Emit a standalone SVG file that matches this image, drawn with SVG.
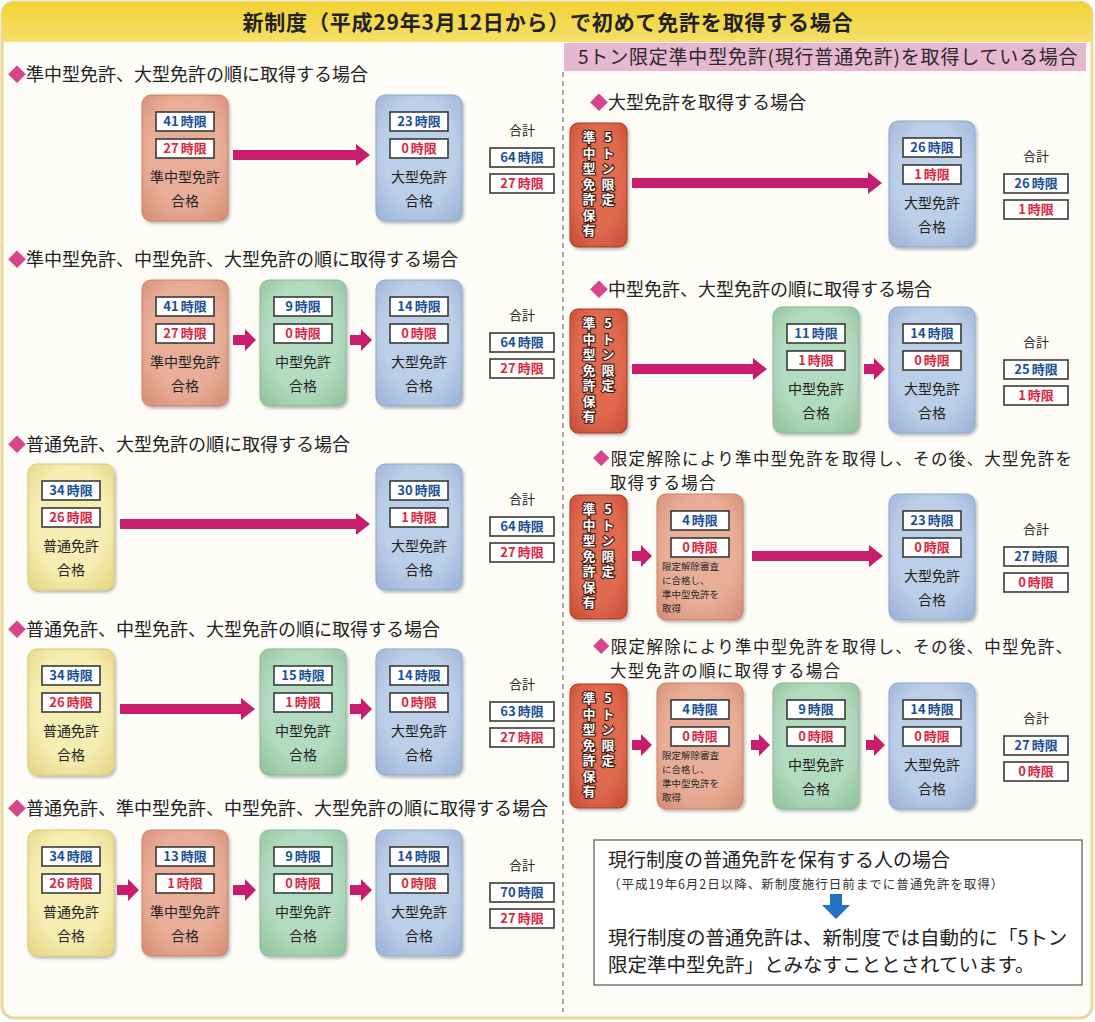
<svg xmlns="http://www.w3.org/2000/svg" width="1095" height="1022" viewBox="0 0 1095 1022">
<defs>
<style>
text { font-family: "Noto Sans CJK JP", "Noto Sans CJK SC", sans-serif; }
.h { font-size: 18px; fill: #222; }
.h2 { font-size: 16.5px; fill: #222; letter-spacing: 1.3px; }
.dia { fill: #d8468a; }
.lb { fill: #fff; stroke: #3a3a3a; stroke-width: 1.6; }
.tb { fill: #1c4f95; font-size: 13px; font-weight: bold; text-anchor: middle; }
.tr { fill: #d8283f; font-size: 13px; font-weight: bold; text-anchor: middle; }
.nm { fill: #222; font-size: 14px; text-anchor: middle; }
.sm { fill: #2a2a2a; font-size: 9.5px; }
.gk { fill: #222; font-size: 13px; text-anchor: middle; }
.arr { fill: #c81d6d; }
.vt { fill: #fff; stroke: #3b1a12; stroke-width: 2.2; paint-order: stroke; font-size: 13px; font-weight: bold; writing-mode: vertical-rl; text-orientation: upright; letter-spacing: 2.5px; }
.n { filter: url(#sh); stroke-width: 1; }
.sal { fill: url(#gSal); stroke: #c98069; }
.grn { fill: url(#gGrn); stroke: #86b896; }
.blu { fill: url(#gBlu); stroke: #8ea7cc; }
.yel { fill: url(#gYel); stroke: #d8c874; }
.red { fill: url(#gRed); stroke: #a93a26; }
</style>
<radialGradient id="gSal" cx="0.5" cy="0.45" r="0.75"><stop offset="0.55" stop-color="#e9ae98"/><stop offset="1" stop-color="#d48a70"/></radialGradient>
<radialGradient id="gGrn" cx="0.5" cy="0.45" r="0.75"><stop offset="0.55" stop-color="#b3dbbf"/><stop offset="1" stop-color="#8cc09c"/></radialGradient>
<radialGradient id="gBlu" cx="0.5" cy="0.45" r="0.75"><stop offset="0.55" stop-color="#bccfe8"/><stop offset="1" stop-color="#96b0d5"/></radialGradient>
<radialGradient id="gYel" cx="0.5" cy="0.45" r="0.75"><stop offset="0.55" stop-color="#f5edb2"/><stop offset="1" stop-color="#e4d47f"/></radialGradient>
<radialGradient id="gRed" cx="0.5" cy="0.45" r="0.8"><stop offset="0.5" stop-color="#e06a50"/><stop offset="1" stop-color="#c2452f"/></radialGradient>
<linearGradient id="hdr" x1="0" y1="0" x2="0" y2="1"><stop offset="0" stop-color="#f2d232"/><stop offset="1" stop-color="#f6df6c"/></linearGradient>
<filter id="sh" x="-10%" y="-10%" width="130%" height="130%"><feDropShadow dx="1.5" dy="2" stdDeviation="1.5" flood-color="#000" flood-opacity="0.28"/></filter>
</defs>

<g id="background">
<rect x="2" y="2" width="1090" height="1016" rx="12" fill="#fdfcf7" stroke="#e8d89a" stroke-width="3"/>
<path d="M2,42 V14 A12,12 0 0 1 14,2 H1080 A12,12 0 0 1 1092,14 V42 Z" fill="url(#hdr)"/>
<text x="548" y="30" font-size="21" font-weight="bold" fill="#222" text-anchor="middle" letter-spacing="0.8">新制度（平成29年3月12日から）で初めて免許を取得する場合</text>
<rect x="564" y="43" width="522" height="28" fill="#e7b6cf"/>
<text x="578" y="64" font-size="19" fill="#2a2a2a" letter-spacing="0.8">5トン限定準中型免許(現行普通免許)を取得している場合</text>
<line x1="563" y1="72" x2="563" y2="1012" stroke="#555" stroke-width="1" stroke-dasharray="5 4"/>
</g>

<g id="headings">
<text class="h" x="8" y="81"><tspan class="dia">◆</tspan>準中型免許、大型免許の順に取得する場合</text>
<text class="h" x="8" y="266"><tspan class="dia">◆</tspan>準中型免許、中型免許、大型免許の順に取得する場合</text>
<text class="h" x="8" y="451"><tspan class="dia">◆</tspan>普通免許、大型免許の順に取得する場合</text>
<text class="h" x="8" y="636"><tspan class="dia">◆</tspan>普通免許、中型免許、大型免許の順に取得する場合</text>
<text class="h" x="8" y="815"><tspan class="dia">◆</tspan>普通免許、準中型免許、中型免許、大型免許の順に取得する場合</text>
<text class="h" x="590" y="109"><tspan class="dia">◆</tspan>大型免許を取得する場合</text>
<text class="h" x="590" y="296"><tspan class="dia">◆</tspan>中型免許、大型免許の順に取得する場合</text>
<text class="h2" x="593" y="465"><tspan class="dia">◆</tspan>限定解除により準中型免許を取得し、その後、大型免許を<tspan x="610" y="489">取得する場合</tspan></text>
<text class="h2" x="593" y="653"><tspan class="dia">◆</tspan>限定解除により準中型免許を取得し、その後、中型免許、<tspan x="610" y="677">大型免許の順に取得する場合</tspan></text>
</g>

<g id="connectors">
<path class="arr" d="M233,150 H356 V144 L370,155 L356,166 V160 H233 Z"/>
<path class="arr" d="M233,335 H245 V329 L256,340 L245,351 V345 H233 Z"/>
<path class="arr" d="M350,335 H361 V329 L372,340 L361,351 V345 H350 Z"/>
<path class="arr" d="M120,519 H356 V513 L370,524 L356,535 V529 H120 Z"/>
<path class="arr" d="M120,704 H241 V698 L255,709 L241,720 V714 H120 Z"/>
<path class="arr" d="M350,704 H361 V698 L372,709 L361,720 V714 H350 Z"/>
<path class="arr" d="M117,885 H128 V879 L139,890 L128,901 V895 H117 Z"/>
<path class="arr" d="M233,885 H245 V879 L256,890 L245,901 V895 H233 Z"/>
<path class="arr" d="M350,885 H361 V879 L372,890 L361,901 V895 H350 Z"/>
<path class="arr" d="M632,178 H868 V172 L882,183 L868,194 V188 H632 Z"/>
<path class="arr" d="M632,364 H753 V358 L767,369 L753,380 V374 H632 Z"/>
<path class="arr" d="M864,364 H874 V358 L885,369 L874,380 V374 H864 Z"/>
<path class="arr" d="M632,551 H641 V545 L652,556 L641,567 V561 H632 Z"/>
<path class="arr" d="M752,551 H869 V545 L883,556 L869,567 V561 H752 Z"/>
<path class="arr" d="M632,740 H641 V734 L652,745 L641,756 V750 H632 Z"/>
<path class="arr" d="M751,740 H759 V734 L770,745 L759,756 V750 H751 Z"/>
<path class="arr" d="M866,740 H874 V734 L885,745 L874,756 V750 H866 Z"/>
</g>

<!-- Section 1 -->
<g id="s1-junchu">
<rect class="n sal" x="142" y="95" width="86" height="126" rx="9"/>
<rect class="lb" x="156" y="112" width="58" height="19"/><text class="tb" x="185" y="126">41<tspan dx="2">時限</tspan></text>
<rect class="lb" x="156" y="139" width="58" height="19"/><text class="tr" x="185" y="153">27<tspan dx="2">時限</tspan></text>
<text class="nm" x="185" y="182">準中型免許</text><text class="nm" x="185" y="206">合格</text>
</g>
<g id="s1-ogata">
<rect class="n blu" x="376" y="95" width="86" height="126" rx="9"/>
<rect class="lb" x="390" y="112" width="58" height="19"/><text class="tb" x="419" y="126">23<tspan dx="2">時限</tspan></text>
<rect class="lb" x="390" y="139" width="58" height="19"/><text class="tr" x="419" y="153">0<tspan dx="2">時限</tspan></text>
<text class="nm" x="419" y="182">大型免許</text><text class="nm" x="419" y="206">合格</text>
</g>
<g id="s1-total">
<text class="gk" x="522" y="135">合計</text>
<rect class="lb" x="490" y="148" width="64" height="19"/><text class="tb" x="522" y="162">64<tspan dx="2">時限</tspan></text>
<rect class="lb" x="490" y="174" width="64" height="19"/><text class="tr" x="522" y="188">27<tspan dx="2">時限</tspan></text>
</g>

<!-- Section 2 -->
<g id="s2-junchu">
<rect class="n sal" x="142" y="280" width="86" height="126" rx="9"/>
<rect class="lb" x="156" y="297" width="58" height="19"/><text class="tb" x="185" y="311">41<tspan dx="2">時限</tspan></text>
<rect class="lb" x="156" y="324" width="58" height="19"/><text class="tr" x="185" y="338">27<tspan dx="2">時限</tspan></text>
<text class="nm" x="185" y="367">準中型免許</text><text class="nm" x="185" y="391">合格</text>
</g>
<g id="s2-chugata">
<rect class="n grn" x="260" y="280" width="86" height="126" rx="9"/>
<rect class="lb" x="274" y="297" width="58" height="19"/><text class="tb" x="303" y="311">9<tspan dx="2">時限</tspan></text>
<rect class="lb" x="274" y="324" width="58" height="19"/><text class="tr" x="303" y="338">0<tspan dx="2">時限</tspan></text>
<text class="nm" x="303" y="367">中型免許</text><text class="nm" x="303" y="391">合格</text>
</g>
<g id="s2-ogata">
<rect class="n blu" x="376" y="280" width="86" height="126" rx="9"/>
<rect class="lb" x="390" y="297" width="58" height="19"/><text class="tb" x="419" y="311">14<tspan dx="2">時限</tspan></text>
<rect class="lb" x="390" y="324" width="58" height="19"/><text class="tr" x="419" y="338">0<tspan dx="2">時限</tspan></text>
<text class="nm" x="419" y="367">大型免許</text><text class="nm" x="419" y="391">合格</text>
</g>
<g id="s2-total">
<text class="gk" x="522" y="320">合計</text>
<rect class="lb" x="490" y="333" width="64" height="19"/><text class="tb" x="522" y="347">64<tspan dx="2">時限</tspan></text>
<rect class="lb" x="490" y="359" width="64" height="19"/><text class="tr" x="522" y="373">27<tspan dx="2">時限</tspan></text>
</g>

<!-- Section 3 -->
<g id="s3-futsu">
<rect class="n yel" x="28" y="464" width="86" height="126" rx="9"/>
<rect class="lb" x="42" y="481" width="58" height="19"/><text class="tb" x="71" y="495">34<tspan dx="2">時限</tspan></text>
<rect class="lb" x="42" y="508" width="58" height="19"/><text class="tr" x="71" y="522">26<tspan dx="2">時限</tspan></text>
<text class="nm" x="71" y="551">普通免許</text><text class="nm" x="71" y="575">合格</text>
</g>
<g id="s3-ogata">
<rect class="n blu" x="376" y="464" width="86" height="126" rx="9"/>
<rect class="lb" x="390" y="481" width="58" height="19"/><text class="tb" x="419" y="495">30<tspan dx="2">時限</tspan></text>
<rect class="lb" x="390" y="508" width="58" height="19"/><text class="tr" x="419" y="522">1<tspan dx="2">時限</tspan></text>
<text class="nm" x="419" y="551">大型免許</text><text class="nm" x="419" y="575">合格</text>
</g>
<g id="s3-total">
<text class="gk" x="522" y="504">合計</text>
<rect class="lb" x="490" y="517" width="64" height="19"/><text class="tb" x="522" y="531">64<tspan dx="2">時限</tspan></text>
<rect class="lb" x="490" y="543" width="64" height="19"/><text class="tr" x="522" y="557">27<tspan dx="2">時限</tspan></text>
</g>

<!-- Section 4 -->
<g id="s4-futsu">
<rect class="n yel" x="28" y="649" width="86" height="126" rx="9"/>
<rect class="lb" x="42" y="666" width="58" height="19"/><text class="tb" x="71" y="680">34<tspan dx="2">時限</tspan></text>
<rect class="lb" x="42" y="693" width="58" height="19"/><text class="tr" x="71" y="707">26<tspan dx="2">時限</tspan></text>
<text class="nm" x="71" y="736">普通免許</text><text class="nm" x="71" y="760">合格</text>
</g>
<g id="s4-chugata">
<rect class="n grn" x="260" y="649" width="86" height="126" rx="9"/>
<rect class="lb" x="274" y="666" width="58" height="19"/><text class="tb" x="303" y="680">15<tspan dx="2">時限</tspan></text>
<rect class="lb" x="274" y="693" width="58" height="19"/><text class="tr" x="303" y="707">1<tspan dx="2">時限</tspan></text>
<text class="nm" x="303" y="736">中型免許</text><text class="nm" x="303" y="760">合格</text>
</g>
<g id="s4-ogata">
<rect class="n blu" x="376" y="649" width="86" height="126" rx="9"/>
<rect class="lb" x="390" y="666" width="58" height="19"/><text class="tb" x="419" y="680">14<tspan dx="2">時限</tspan></text>
<rect class="lb" x="390" y="693" width="58" height="19"/><text class="tr" x="419" y="707">0<tspan dx="2">時限</tspan></text>
<text class="nm" x="419" y="736">大型免許</text><text class="nm" x="419" y="760">合格</text>
</g>
<g id="s4-total">
<text class="gk" x="522" y="689">合計</text>
<rect class="lb" x="490" y="702" width="64" height="19"/><text class="tb" x="522" y="716">63<tspan dx="2">時限</tspan></text>
<rect class="lb" x="490" y="728" width="64" height="19"/><text class="tr" x="522" y="742">27<tspan dx="2">時限</tspan></text>
</g>

<!-- Section 5 -->
<g id="s5-futsu">
<rect class="n yel" x="28" y="830" width="86" height="126" rx="9"/>
<rect class="lb" x="42" y="847" width="58" height="19"/><text class="tb" x="71" y="861">34<tspan dx="2">時限</tspan></text>
<rect class="lb" x="42" y="874" width="58" height="19"/><text class="tr" x="71" y="888">26<tspan dx="2">時限</tspan></text>
<text class="nm" x="71" y="917">普通免許</text><text class="nm" x="71" y="941">合格</text>
</g>
<g id="s5-junchu">
<rect class="n sal" x="142" y="830" width="86" height="126" rx="9"/>
<rect class="lb" x="156" y="847" width="58" height="19"/><text class="tb" x="185" y="861">13<tspan dx="2">時限</tspan></text>
<rect class="lb" x="156" y="874" width="58" height="19"/><text class="tr" x="185" y="888">1<tspan dx="2">時限</tspan></text>
<text class="nm" x="185" y="917">準中型免許</text><text class="nm" x="185" y="941">合格</text>
</g>
<g id="s5-chugata">
<rect class="n grn" x="260" y="830" width="86" height="126" rx="9"/>
<rect class="lb" x="274" y="847" width="58" height="19"/><text class="tb" x="303" y="861">9<tspan dx="2">時限</tspan></text>
<rect class="lb" x="274" y="874" width="58" height="19"/><text class="tr" x="303" y="888">0<tspan dx="2">時限</tspan></text>
<text class="nm" x="303" y="917">中型免許</text><text class="nm" x="303" y="941">合格</text>
</g>
<g id="s5-ogata">
<rect class="n blu" x="376" y="830" width="86" height="126" rx="9"/>
<rect class="lb" x="390" y="847" width="58" height="19"/><text class="tb" x="419" y="861">14<tspan dx="2">時限</tspan></text>
<rect class="lb" x="390" y="874" width="58" height="19"/><text class="tr" x="419" y="888">0<tspan dx="2">時限</tspan></text>
<text class="nm" x="419" y="917">大型免許</text><text class="nm" x="419" y="941">合格</text>
</g>
<g id="s5-total">
<text class="gk" x="522" y="870">合計</text>
<rect class="lb" x="490" y="883" width="64" height="19"/><text class="tb" x="522" y="897">70<tspan dx="2">時限</tspan></text>
<rect class="lb" x="490" y="909" width="64" height="19"/><text class="tr" x="522" y="923">27<tspan dx="2">時限</tspan></text>
</g>

<!-- Right R1 -->
<g id="r1-hoyu">
<rect class="n red" x="570" y="123" width="57" height="124" rx="8"/>
<text class="vt" x="608" y="131">5トン限定</text>
<text class="vt" x="589" y="131">準中型免許保有</text>
</g>
<g id="r1-ogata">
<rect class="n blu" x="889" y="121" width="86" height="126" rx="9"/>
<rect class="lb" x="903" y="138" width="58" height="19"/><text class="tb" x="932" y="152">26<tspan dx="2">時限</tspan></text>
<rect class="lb" x="903" y="165" width="58" height="19"/><text class="tr" x="932" y="179">1<tspan dx="2">時限</tspan></text>
<text class="nm" x="932" y="208">大型免許</text><text class="nm" x="932" y="232">合格</text>
</g>
<g id="r1-total">
<text class="gk" x="1036" y="161">合計</text>
<rect class="lb" x="1004" y="174" width="64" height="19"/><text class="tb" x="1036" y="188">26<tspan dx="2">時限</tspan></text>
<rect class="lb" x="1004" y="200" width="64" height="19"/><text class="tr" x="1036" y="214">1<tspan dx="2">時限</tspan></text>
</g>

<!-- Right R2 -->
<g id="r2-hoyu">
<rect class="n red" x="570" y="309" width="57" height="124" rx="8"/>
<text class="vt" x="608" y="317">5トン限定</text>
<text class="vt" x="589" y="317">準中型免許保有</text>
</g>
<g id="r2-chugata">
<rect class="n grn" x="773" y="307" width="86" height="126" rx="9"/>
<rect class="lb" x="787" y="324" width="58" height="19"/><text class="tb" x="816" y="338">11<tspan dx="2">時限</tspan></text>
<rect class="lb" x="787" y="351" width="58" height="19"/><text class="tr" x="816" y="365">1<tspan dx="2">時限</tspan></text>
<text class="nm" x="816" y="394">中型免許</text><text class="nm" x="816" y="418">合格</text>
</g>
<g id="r2-ogata">
<rect class="n blu" x="889" y="307" width="86" height="126" rx="9"/>
<rect class="lb" x="903" y="324" width="58" height="19"/><text class="tb" x="932" y="338">14<tspan dx="2">時限</tspan></text>
<rect class="lb" x="903" y="351" width="58" height="19"/><text class="tr" x="932" y="365">0<tspan dx="2">時限</tspan></text>
<text class="nm" x="932" y="394">大型免許</text><text class="nm" x="932" y="418">合格</text>
</g>
<g id="r2-total">
<text class="gk" x="1036" y="347">合計</text>
<rect class="lb" x="1004" y="360" width="64" height="19"/><text class="tb" x="1036" y="374">25<tspan dx="2">時限</tspan></text>
<rect class="lb" x="1004" y="386" width="64" height="19"/><text class="tr" x="1036" y="400">1<tspan dx="2">時限</tspan></text>
</g>

<!-- Right R3 -->
<g id="r3-hoyu">
<rect class="n red" x="570" y="495" width="57" height="124" rx="8"/>
<text class="vt" x="608" y="503">5トン限定</text>
<text class="vt" x="589" y="503">準中型免許保有</text>
</g>
<g id="r3-kaijo">
<rect class="n sal" x="657" y="494" width="86" height="126" rx="9"/>
<rect class="lb" x="671" y="511" width="58" height="19"/><text class="tb" x="700" y="525">4<tspan dx="2">時限</tspan></text>
<rect class="lb" x="671" y="538" width="58" height="19"/><text class="tr" x="700" y="552">0<tspan dx="2">時限</tspan></text>
<text class="sm" x="662" y="570">限定解除審査</text>
<text class="sm" x="662" y="584">に合格し、</text>
<text class="sm" x="662" y="598">準中型免許を</text>
<text class="sm" x="662" y="612">取得</text>
</g>
<g id="r3-ogata">
<rect class="n blu" x="889" y="494" width="86" height="126" rx="9"/>
<rect class="lb" x="903" y="511" width="58" height="19"/><text class="tb" x="932" y="525">23<tspan dx="2">時限</tspan></text>
<rect class="lb" x="903" y="538" width="58" height="19"/><text class="tr" x="932" y="552">0<tspan dx="2">時限</tspan></text>
<text class="nm" x="932" y="581">大型免許</text><text class="nm" x="932" y="605">合格</text>
</g>
<g id="r3-total">
<text class="gk" x="1036" y="534">合計</text>
<rect class="lb" x="1004" y="547" width="64" height="19"/><text class="tb" x="1036" y="561">27<tspan dx="2">時限</tspan></text>
<rect class="lb" x="1004" y="573" width="64" height="19"/><text class="tr" x="1036" y="587">0<tspan dx="2">時限</tspan></text>
</g>

<!-- Right R4 -->
<g id="r4-hoyu">
<rect class="n red" x="570" y="684" width="57" height="124" rx="8"/>
<text class="vt" x="608" y="692">5トン限定</text>
<text class="vt" x="589" y="692">準中型免許保有</text>
</g>
<g id="r4-kaijo">
<rect class="n sal" x="657" y="683" width="86" height="126" rx="9"/>
<rect class="lb" x="671" y="700" width="58" height="19"/><text class="tb" x="700" y="714">4<tspan dx="2">時限</tspan></text>
<rect class="lb" x="671" y="727" width="58" height="19"/><text class="tr" x="700" y="741">0<tspan dx="2">時限</tspan></text>
<text class="sm" x="662" y="759">限定解除審査</text>
<text class="sm" x="662" y="773">に合格し、</text>
<text class="sm" x="662" y="787">準中型免許を</text>
<text class="sm" x="662" y="801">取得</text>
</g>
<g id="r4-chugata">
<rect class="n grn" x="773" y="683" width="86" height="126" rx="9"/>
<rect class="lb" x="787" y="700" width="58" height="19"/><text class="tb" x="816" y="714">9<tspan dx="2">時限</tspan></text>
<rect class="lb" x="787" y="727" width="58" height="19"/><text class="tr" x="816" y="741">0<tspan dx="2">時限</tspan></text>
<text class="nm" x="816" y="770">中型免許</text><text class="nm" x="816" y="794">合格</text>
</g>
<g id="r4-ogata">
<rect class="n blu" x="889" y="683" width="86" height="126" rx="9"/>
<rect class="lb" x="903" y="700" width="58" height="19"/><text class="tb" x="932" y="714">14<tspan dx="2">時限</tspan></text>
<rect class="lb" x="903" y="727" width="58" height="19"/><text class="tr" x="932" y="741">0<tspan dx="2">時限</tspan></text>
<text class="nm" x="932" y="770">大型免許</text><text class="nm" x="932" y="794">合格</text>
</g>
<g id="r4-total">
<text class="gk" x="1036" y="723">合計</text>
<rect class="lb" x="1004" y="736" width="64" height="19"/><text class="tb" x="1036" y="750">27<tspan dx="2">時限</tspan></text>
<rect class="lb" x="1004" y="762" width="64" height="19"/><text class="tr" x="1036" y="776">0<tspan dx="2">時限</tspan></text>
</g>

<!-- Note box -->
<g id="note">
<rect x="594" y="840" width="488" height="145" fill="#fff" stroke="#555" stroke-width="1.2"/>
<text x="608" y="867" font-size="19" fill="#222">現行制度の普通免許を保有する人の場合</text>
<text x="608" y="889" font-size="12.5" fill="#333" letter-spacing="1">（平成19年6月2日以降、新制度施行日前までに普通免許を取得）</text>
<path d="M830,894 H842 V905 H850 L836,919 L822,905 H830 Z" fill="#2271c3"/>
<text x="608" y="945" font-size="19.5" fill="#222">現行制度の普通免許は、新制度では自動的に「5トン<tspan x="608" y="972">限定準中型免許」とみなすこととされています。</tspan></text>
</g>
</svg>
